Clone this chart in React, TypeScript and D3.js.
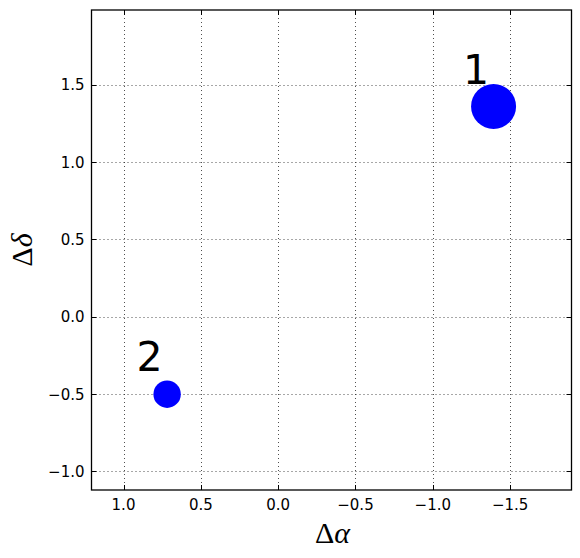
import React, { useEffect, useRef } from 'react';
import * as d3 from 'd3';

// offsets of the sources (arcsec)
const labels = ['1', '2'];
const dAlpha = [-1.393, 0.718];
const dDelta = [1.361, -0.501];
const flux = [2.7, 1.0];

const xTicks = [1.0, 0.5, 0.0, -0.5, -1.0, -1.5];
const yTicks = [1.5, 1.0, 0.5, 0.0, -0.5, -1.0];
const xLimits = [1.207, -1.897];
const yLimits = [-1.121, 1.985];

const width = 580;
const height = 558;
const margin = { top: 10, right: 8.5, bottom: 68, left: 91.5 };

const fmt = (v: number) => {
  const s = Math.abs(v).toFixed(1);
  return v < 0 ? '\u2212' + s : s;
};

export default function App() {
  const svgRef = useRef<SVGSVGElement>(null);

  useEffect(() => {
    const svg = d3.select(svgRef.current);
    svg.selectAll('*').remove();

    const x = d3.scaleLinear().domain(xLimits).range([margin.left, width - margin.right]);
    const y = d3.scaleLinear().domain(yLimits).range([height - margin.bottom, margin.top]);
    const r = d3.scaleSqrt().domain([0, 2.7]).range([0, 22.5]);

    const x0 = margin.left, x1 = width - margin.right;
    const y0 = margin.top, y1 = height - margin.bottom;

    svg.append('rect').attr('width', width).attr('height', height).attr('fill', '#fff');

    // dotted grid
    const grid = svg.append('g').attr('stroke', '#222').attr('stroke-width', 0.8).attr('stroke-dasharray', '1,3');
    grid.selectAll('.gx').data(xTicks).enter().append('line')
      .attr('x1', d => Math.round(x(d)) + 0.5).attr('x2', d => Math.round(x(d)) + 0.5)
      .attr('y1', y0).attr('y2', y1);
    grid.selectAll('.gy').data(yTicks).enter().append('line')
      .attr('y1', d => Math.round(y(d)) + 0.5).attr('y2', d => Math.round(y(d)) + 0.5)
      .attr('x1', x0).attr('x2', x1);

    // ticks inside on all sides
    const tk = svg.append('g').attr('stroke', '#000').attr('stroke-width', 1);
    xTicks.forEach(t => {
      const px = Math.round(x(t)) + 0.5;
      tk.append('line').attr('x1', px).attr('x2', px).attr('y1', y1).attr('y2', y1 - 5);
      tk.append('line').attr('x1', px).attr('x2', px).attr('y1', y0).attr('y2', y0 + 5);
    });
    yTicks.forEach(t => {
      const py = Math.round(y(t)) + 0.5;
      tk.append('line').attr('x1', x0).attr('x2', x0 + 5).attr('y1', py).attr('y2', py);
      tk.append('line').attr('x1', x1).attr('x2', x1 - 5).attr('y1', py).attr('y2', py);
    });

    // points
    svg.selectAll('.pt').data(labels).enter().append('circle')
      .attr('cx', (d, i) => x(dAlpha[i]))
      .attr('cy', (d, i) => y(dDelta[i]))
      .attr('r', (d, i) => r(flux[i]))
      .attr('fill', '#0000ff');

    svg.selectAll('.lbl').data(labels).enter().append('text')
      .attr('x', (d, i) => x(dAlpha[i] + 0.114))
      .attr('y', (d, i) => y(dDelta[i] + 0.148))
      .attr('text-anchor', 'middle')
      .attr('font-family', 'DejaVu Sans')
      .attr('font-size', 41)
      .text(d => d);

    // frame
    svg.append('rect')
      .attr('x', x0).attr('y', y0).attr('width', x1 - x0).attr('height', y1 - y0)
      .attr('fill', 'none').attr('stroke', '#000').attr('stroke-width', 1.3);

    // tick labels
    svg.selectAll('.xl').data(xTicks).enter().append('text')
      .attr('x', d => x(d)).attr('y', y1 + 20)
      .attr('text-anchor', 'middle')
      .attr('font-family', 'DejaVu Sans').attr('font-size', 15)
      .text(d => fmt(d));
    svg.selectAll('.yl').data(yTicks).enter().append('text')
      .attr('x', x0 - 7).attr('y', d => y(d) + 5.5)
      .attr('text-anchor', 'end')
      .attr('font-family', 'DejaVu Sans').attr('font-size', 15)
      .text(d => fmt(d));

    // axis labels
    const xl = svg.append('text')
      .attr('x', (x0 + x1) / 2 + 1).attr('y', 543)
      .attr('text-anchor', 'middle')
      .attr('font-family', 'Liberation Serif').attr('font-size', 30);
    xl.append('tspan').text('\u0394');
    xl.append('tspan').attr('font-style', 'italic').text('\u03b1');

    const yl = svg.append('text')
      .attr('transform', `translate(32,${(y0 + y1) / 2}) rotate(-90)`)
      .attr('text-anchor', 'middle')
      .attr('font-family', 'Liberation Serif').attr('font-size', 30);
    yl.append('tspan').text('\u0394');
    yl.append('tspan').attr('font-style', 'italic').text('\u03b4');
  }, []);

  return (
    <svg ref={svgRef} width={width} height={height}
      style={{ position: 'absolute', left: 0, top: 0, display: 'block' }} />
  );
}
